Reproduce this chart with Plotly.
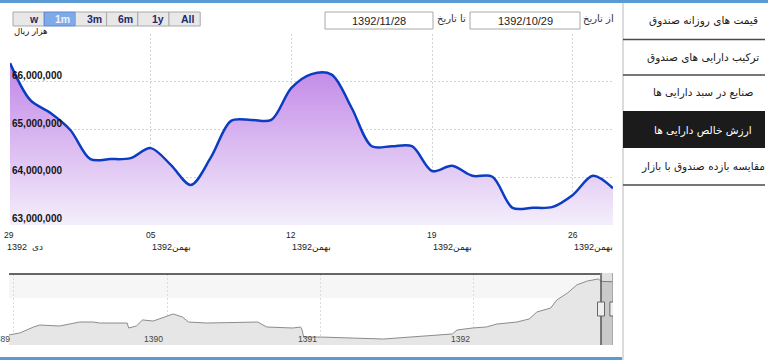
import plotly.graph_objects as go

# ---------------- data ----------------
DAYS = list(range(31))  # day index from 1392/10/29
NAV_MILLION = [66.39, 65.62, 65.35, 64.99, 64.38, 64.38, 64.40, 64.61, 64.26, 63.84,
               64.42, 65.18, 65.20, 65.20, 65.87, 66.16, 66.15, 65.45, 64.65, 64.65,
               64.65, 64.13, 64.24, 64.03, 64.01, 63.36, 63.36, 63.38, 63.63, 64.03, 63.77]
NAV_VALUES = [v * 1e6 for v in NAV_MILLION]

X_TICK_DAYS = [0, 7, 14, 21, 28]
X_TICK_DAY_LABELS = ["29", "05", "12", "19", "26"]
X_TICK_MONTH_LABELS = ["1392  دی", "1392بهمن", "1392بهمن", "1392بهمن", "1392بهمن"]
Y_TICKS = [63e6, 64e6, 65e6, 66e6, 67e6]
Y_TICK_LABELS = ["63,000,000", "64,000,000", "65,000,000", "66,000,000"]

HIST_YEARS = [1388.97, 1389.04, 1389.13, 1389.17, 1389.30, 1389.43, 1389.52, 1389.56,
              1389.74, 1389.75, 1389.80, 1389.84, 1389.91, 1389.97, 1390.04, 1390.10,
              1390.14, 1390.26, 1390.59, 1390.65, 1390.82, 1390.87, 1390.88, 1390.89,
              1391.00, 1391.41, 1391.73, 1391.86, 1391.89, 1391.99, 1392.08, 1392.15,
              1392.28, 1392.36, 1392.41, 1392.50, 1392.54, 1392.61, 1392.67, 1392.74,
              1392.81, 1392.83, 1392.90]
HIST_VALUES = [10.1, 12.1, 18.1, 20.1, 19.1, 23.1, 23.1, 22.1, 22.1, 17.1, 19.1, 25.2,
               24.1, 27.2, 31.2, 28.2, 23.1, 22.1, 23.1, 18.1, 17.1, 18.1, 15.1, 8.0,
               8.0, 6.0, 10.1, 11.1, 15.1, 17.1, 18.1, 21.1, 23.1, 26.2, 33.2, 37.2,
               45.3, 52.3, 60.4, 64.4, 66.4, 64.0, 63.6]
NAV_YEAR_TICKS = [1389, 1390, 1391, 1392]
SEL_START = 1392 + (10 - 1 + (29 - 1) / 30) / 12
SEL_END = 1392 + (11 - 1 + (28 - 1) / 30) / 12

BUTTONS = ["w", "1m", "3m", "6m", "1y", "All"]
SELECTED_BUTTON = "1m"
FROM_DATE = "1392/10/29"
TO_DATE = "1392/11/28"
MENU_ITEMS = ["قیمت های روزانه صندوق", "ترکیب دارایی های صندوق", "صنایع در سبد دارایی ها",
              "ارزش خالص دارایی ها", "مقایسه بازده صندوق با بازار"]
ACTIVE_MENU = 3
UNIT_LABEL = "هزار ریال"

W, H = 768, 360
def PX(x): return x / W
def PY(y): return 1 - y / H

FONT = "Tahoma, 'Liberation Sans', 'DejaVu Sans', sans-serif"
AFONT = "Tahoma, 'DejaVu Sans', sans-serif"

fig = go.Figure()

# main series
fig.add_trace(go.Scatter(
    x=DAYS, y=NAV_VALUES, mode="lines",
    line=dict(color="#0b3cc1", width=2.5, shape="spline", smoothing=0.9),
    fill="tozeroy",
    fillgradient=dict(type="vertical", start=63e6, stop=66.6e6,
                      colorscale=[[0, "rgb(244,238,251)"], [1, "rgb(190,128,230)"]]),
    hoverinfo="skip", xaxis="x", yaxis="y", showlegend=False))

# navigator series
fig.add_trace(go.Scatter(
    x=HIST_YEARS, y=HIST_VALUES, mode="lines",
    line=dict(color="#8c8c8c", width=1),
    fill="tozeroy", fillcolor="#e6e6e6",
    hoverinfo="skip", xaxis="x2", yaxis="y2", showlegend=False))

shapes = []
ann = []

# top / bottom blue bars and menu border
shapes.append(dict(type="rect", xref="paper", yref="paper", x0=0, x1=1, y0=PY(3), y1=1,
                   fillcolor="#5b9bd5", line_width=0, layer="above"))
shapes.append(dict(type="rect", xref="paper", yref="paper", x0=0, x1=PX(622), y0=0, y1=PY(357),
                   fillcolor="#5b9bd5", line_width=0, layer="above"))
shapes.append(dict(type="line", xref="paper", yref="paper", x0=PX(623), x1=PX(623), y0=0, y1=PY(3),
                   line=dict(color="#dcdcdc", width=2), layer="above"))

# range buttons
bx0, bw = 13, 31.2
for i, b in enumerate(BUTTONS):
    x0 = bx0 + i * bw
    sel = b == SELECTED_BUTTON
    shapes.append(dict(type="rect", xref="paper", yref="paper",
                       x0=PX(x0), x1=PX(x0 + bw), y0=PY(26), y1=PY(12),
                       fillcolor="#7faaea" if sel else "#e8e8e8",
                       line=dict(color="#5a86cf" if sel else "#a9a9a9", width=1)))
    ann.append(dict(xref="paper", yref="paper", x=PX(x0 + bw - 3), y=PY(19), text="<b>%s</b>" % b,
                    xanchor="right", yanchor="middle", showarrow=False,
                    font=dict(family=FONT, size=10.5, color="#eef3ff" if sel else "#1f2a6b")))

ann.append(dict(xref="paper", yref="paper", x=PX(12), y=PY(31), text=UNIT_LABEL,
                xanchor="left", yanchor="middle", showarrow=False,
                font=dict(family=AFONT, size=8.5, color="#111")))

# date boxes
for (x0, x1, txt, lbl, lx) in [(325, 433, TO_DATE, "تا تاریخ", 451), (470, 580, FROM_DATE, "از تاریخ", 598)]:
    shapes.append(dict(type="rect", xref="paper", yref="paper", x0=PX(x0), x1=PX(x1), y0=PY(29), y1=PY(12),
                       fillcolor="white", line=dict(color="#a8a8a8", width=1)))
    ann.append(dict(xref="paper", yref="paper", x=PX((x0 + x1) / 2), y=PY(20.5), text=txt,
                    xanchor="center", yanchor="middle", showarrow=False,
                    font=dict(family=FONT, size=11, color="#222")))
    ann.append(dict(xref="paper", yref="paper", x=PX(lx), y=PY(19), text=lbl,
                    xanchor="center", yanchor="middle", showarrow=False,
                    font=dict(family=AFONT, size=10, color="#333")))

# menu
menu_y = [20, 57, 93, 130, 166]
for i, (item, yy) in enumerate(zip(MENU_ITEMS, menu_y)):
    active = i == ACTIVE_MENU
    if active:
        shapes.append(dict(type="rect", xref="paper", yref="paper", x0=PX(623), x1=PX(765),
                           y0=PY(148), y1=PY(111), fillcolor="#1b1b1b", line_width=0))
    ann.append(dict(xref="paper", yref="paper", x=PX(703), y=PY(yy), text=item,
                    xanchor="center", yanchor="middle", showarrow=False,
                    font=dict(family=AFONT, size=10.5, color="white" if active else "#1a1a1a")))
for sy in [39.5, 75, 185]:
    shapes.append(dict(type="line", xref="paper", yref="paper", x0=PX(623), x1=PX(765),
                       y0=PY(sy), y1=PY(sy), line=dict(color="#4a4a4a", width=1.3)))

# main chart labels
for v, t in zip(Y_TICKS, Y_TICK_LABELS):
    ann.append(dict(xref="x", yref="y", x=0, y=v, text="<b>%s</b>" % t, xanchor="left",
                    yanchor="bottom", xshift=0, yshift=-1, showarrow=False,
                    font=dict(family=FONT, size=10, color="#151515")))
for d, t1, t2 in zip(X_TICK_DAYS, X_TICK_DAY_LABELS, X_TICK_MONTH_LABELS):
    ann.append(dict(xref="x", yref="paper", x=d, y=PY(235), text=t1, xanchor="center",
                    yanchor="middle", xshift=-1 if d == 0 else 0, showarrow=False,
                    font=dict(family=FONT, size=8.5, color="#222")))
    ann.append(dict(xref="x", yref="paper", x=d, y=PY(246.5), text=t2, xanchor="left",
                    yanchor="middle", xshift=-5 if d == 0 else -1, showarrow=False,
                    font=dict(family=FONT, size=9, color="#222")))

# navigator decorations
shapes.append(dict(type="rect", xref="paper", yref="paper", x0=PX(9), x1=PX(600), y0=PY(298), y1=PY(274.5),
                   fillcolor="#f6f6f6", line_width=0, layer="below"))
shapes.append(dict(type="line", xref="paper", yref="paper", x0=PX(9), x1=PX(600), y0=PY(274), y1=PY(274),
                   line=dict(color="#333", width=1.3)))
shapes.append(dict(type="rect", xref="x2", yref="paper", x0=SEL_START, x1=SEL_END, y0=PY(345), y1=PY(273),
                   fillcolor="rgba(0,0,0,0.12)", line_width=0))
for xv in [SEL_START, SEL_END]:
    shapes.append(dict(type="line", xref="x2", yref="paper", x0=xv, x1=xv, y0=PY(345), y1=PY(273),
                       line=dict(color="#555", width=1.5)))
    shapes.append(dict(type="rect", xref="x2", yref="paper", x0=xv, x1=xv, xsizemode="pixel",
                       xanchor=xv, y0=PY(316), y1=PY(302), line=dict(color="#666", width=1),
                       fillcolor="#eeeeee"))
for yv in NAV_YEAR_TICKS:
    ann.append(dict(xref="x2", yref="paper", x=yv, y=PY(339), text=str(yv), xanchor="right",
                    yanchor="middle", xshift=-2, showarrow=False,
                    font=dict(family=FONT, size=8.5, color="#444")))

# pixel-sized handles need explicit pixel extents
for s in shapes:
    if s.get("xsizemode") == "pixel":
        s["x0"], s["x1"] = -3.5, 3.5

fig.update_layout(
    width=W, height=H, margin=dict(l=0, r=0, t=0, b=0),
    paper_bgcolor="white", plot_bgcolor="rgba(0,0,0,0)",
    xaxis=dict(domain=[PX(10), PX(613)], range=[0, 30], tickvals=X_TICK_DAYS, showticklabels=False,
               showgrid=True, gridcolor="#d4d4d4", griddash="2px,2px", gridwidth=1,
               zeroline=False, showline=False, ticks="", fixedrange=True),
    yaxis=dict(domain=[PY(225), PY(34)], range=[63e6, 67e6], tickvals=Y_TICKS, showticklabels=False,
               showgrid=True, gridcolor="#d4d4d4", griddash="2px,2px", gridwidth=1,
               zeroline=False, showline=False, ticks="", fixedrange=True),
    xaxis2=dict(domain=[PX(9), PX(613)], range=[1388.97, 1392.906], tickvals=NAV_YEAR_TICKS,
                showticklabels=False, showgrid=True, gridcolor="#dcdcdc", griddash="2px,2px",
                zeroline=False, showline=False, ticks="", anchor="y2"),
    yaxis2=dict(domain=[PY(345), PY(274)], range=[0, 71.4], showticklabels=False, showgrid=False,
                zeroline=False, showline=False, ticks="", anchor="x2"),
    shapes=shapes, annotations=ann, showlegend=False,
)

fig.write_html("out.html")
